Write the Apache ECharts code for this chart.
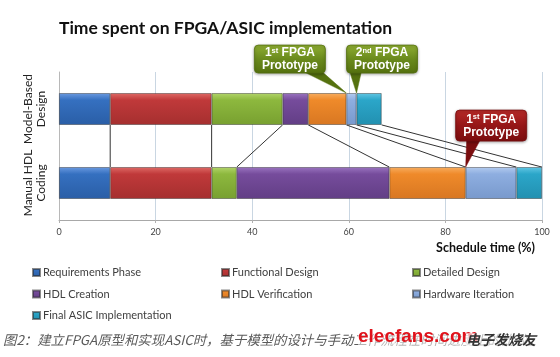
<!DOCTYPE html>
<html><head><meta charset="utf-8">
<script src="https://cdn.jsdelivr.net/npm/echarts@6/dist/echarts.min.js"></script>
<style>html,body{margin:0;padding:0;background:#fff}#c{width:560px;height:357px}</style>
</head><body><div id="c"></div>
<script>
// ---- data ----
const categories = ['Manual HDL\nCoding', 'Model-Based\nDesign'];
const phases = ['Requirements Phase','Functional Design','Detailed Design','HDL Creation','HDL Verification','Hardware Iteration','Final ASIC Implementation'];
const manualHDL = [10.6, 21.0, 5.2, 31.6, 15.8, 10.5, 5.3];
const modelBased = [10.6, 21.0, 14.7, 5.3, 7.9, 2.1, 5.2];
const xTicks = [0, 20, 40, 60, 80, 100];
const calloutTexts = [['1','st',' FPGA','Prototype'], ['2','nd',' FPGA','Prototype'], ['1','st',' FPGA','Prototype']];
// callouts: [which bar (1=model, 0=manual), boundary index (end of phase)]
const calloutTargets = [[1, 4], [1, 5], [0, 4]];
const titleText = 'Time spent on FPGA/ASIC implementation';
const axisName = 'Schedule time (%)';
const caption = '图2：建立FPGA原型和实现ASIC时，基于模型的设计与手动工作流程在时间进度上的比较。';

// ---- derived ----
function cum(a){let s=0;return a.map(v=>+(s+=v).toFixed(2));}
const cumManual = cum(manualHDL), cumModel = cum(modelBased);
const cumByBar = [cumManual, cumModel];

// ---- styles ----
const colors = [
  ['#6b9ae0','#3570c0','#2a5ea6'],
  ['#de6a66','#c0393a','#a52f2f'],
  ['#b2d46a','#8db83e','#78a030'],
  ['#9a74c0','#764c9c','#623e85'],
  ['#f7ad60','#ef8a2a','#d87722'],
  ['#b3cbef','#8eaee0','#7899cc'],
  ['#62c6e3','#2ba6c9','#2290b0']
];
const calloutLayout = [
  {dx:-92, dy:-48, w:71, h:28, tail:[[-44,-20],[-25,-20]], c:['#8fae33','#6a8a1c','#55710f']},
  {dx:-10, dy:-48, w:71, h:28, tail:[[-7,-20],[5,-20]], c:['#8fae33','#6a8a1c','#55710f']},
  {dx:-10, dy:-57, w:71, h:31, tail:[[1,-26],[15,-26]], c:['#b82a28','#951617','#7a0d0e']}
];
const BARW = 0.43;
function grad(c){return {type:'linear',x:0,y:0,x2:0,y2:1,colorStops:[{offset:0,color:c[0]},{offset:0.22,color:c[1]},{offset:1,color:c[2]}]};}

const barSeries = phases.map((p,i)=>({
  name:p, type:'bar', stack:'t', barWidth:(BARW*100)+'%',
  data:[manualHDL[i], modelBased[i]],
  itemStyle:{color:grad(colors[i]), borderColor:'rgba(40,40,40,0.55)', borderWidth:0.8},
  emphasis:{disabled:true}, z:3
}));

const connectorSeries = {
  type:'custom', clip:false, z:2, silent:true,
  encode:{x:[0,1], y:2},
  data: cumModel.map((v,i)=>[v, cumManual[i], 0]),
  renderItem(params, api){
    const band = api.size([0,1])[1];
    const half = band*BARW/2;
    const p1 = api.coord([api.value(0), 1]);
    const p2 = api.coord([api.value(1), 0]);
    return {type:'line', shape:{x1:p1[0], y1:p1[1]+half, x2:p2[0], y2:p2[1]-half},
      style:{stroke:'#333', lineWidth:1}};
  }
};

const calloutSeries = {
  type:'custom', clip:false, z:10, silent:true,
  encode:{x:0, y:1},
  data: calloutTargets.map(t=>[cumByBar[t[0]][t[1]], t[0]]),
  renderItem(params, api){
    const i = params.dataIndex, L = calloutLayout[i], T = calloutTexts[i];
    const band = api.size([0,1])[1];
    const p = api.coord([api.value(0), api.value(1)]);
    const x = p[0], y = p[1] - band*BARW/2;
    const fill = {type:'linear',x:0,y:0,x2:0,y2:1,colorStops:[{offset:0,color:L.c[0]},{offset:0.5,color:L.c[1]},{offset:1,color:L.c[2]}]};
    return {type:'group', children:[
      {type:'polygon', shape:{points:[[x+L.tail[0][0], y+L.tail[0][1]-2],[x+L.tail[1][0], y+L.tail[1][1]-2],[x,y]]},
        style:{fill:L.c[2], stroke:L.c[2], lineWidth:0.5}},
      {type:'rect', shape:{x:x+L.dx, y:y+L.dy, width:L.w, height:L.h, r:4},
        style:{fill:fill, stroke:L.c[2], lineWidth:0.8, shadowBlur:3, shadowOffsetY:1, shadowColor:'rgba(0,0,0,0.35)'}},
      {type:'text', style:{
        x:x+L.dx+L.w/2, y:y+L.dy+L.h/2+0.5, align:'center', verticalAlign:'middle',
        text:'{a|'+T[0]+'}{s|'+T[1]+'}{a|'+T[2]+'}\n{a|'+T[3]+'}',
        rich:{
          a:{fill:'#fff', fontSize:12, fontWeight:'bold', fontFamily:'Liberation Sans', lineHeight:13},
          s:{fill:'#fff', fontSize:7.5, fontWeight:'bold', fontFamily:'Liberation Sans', lineHeight:13, verticalAlign:'top'}
        }}}
    ]};
  }
};

function legendCol(items, left){
  return {orient:'vertical', left:left, top:262, itemWidth:7, itemHeight:7, itemGap:10.5,
    icon:'rect', data:items, selectedMode:false,
    textStyle:{fontFamily:'Lato', fontSize:11, color:'#404040', padding:[0,0,0,-2]}};
}

const chart = echarts.init(document.getElementById('c'), null, {renderer:'canvas'});
chart.setOption({
  animation:false,
  title:{text:titleText, left:54, top:14, textStyle:{fontFamily:'Lato', fontSize:17.5, fontWeight:'bold', color:'#111'}},
  grid:{left:59, right:18, top:72, bottom:137, containLabel:false},
  legend:[
    legendCol([phases[0], phases[3], phases[6]], 27),
    legendCol([phases[1], phases[4]], 216),
    legendCol([phases[2], phases[5]], 407)
  ],
  xAxis:{type:'value', min:0, max:100, interval:20,
    name:axisName, nameLocation:'end', nameGap:-7,
    nameTextStyle:{fontFamily:'Lato', fontSize:12.5, fontWeight:'bold', color:'#111', align:'right', verticalAlign:'top', padding:[21,0,0,0]},
    axisLine:{show:true, lineStyle:{color:'#a8a8a8'}},
    axisTick:{show:true, length:3, lineStyle:{color:'#b0b0b0'}},
    axisLabel:{fontFamily:'Lato', fontSize:9, color:'#444', margin:8, formatter:v=>xTicks.includes(v)?String(v):''},
    splitLine:{show:true, lineStyle:{color:'#c9d6e2'}}
  },
  yAxis:{type:'category', data:categories,
    axisLine:{show:true, lineStyle:{color:'#b8b8b8'}},
    axisTick:{show:false},
    axisLabel:{rotate:90, interval:0, hideOverlap:false, margin:11, fontFamily:'Lato', fontSize:12, color:'#222', lineHeight:13}
  },
  series:[connectorSeries, ...barSeries, calloutSeries],
  graphic:[
    {type:'text', left:3, top:333, z:5, style:{text:caption, fontFamily:'Noto Sans CJK SC', fontStyle:'italic', fontSize:13.4, fill:'#5a5a5a'}},
    {type:'text', left:358, top:327, z:6, style:{text:'elecfans.com', fontFamily:'Liberation Sans', fontWeight:'bold', fontSize:19, fill:'#e0121b', backgroundColor:'rgba(255,255,255,0.55)'}},
    {type:'text', left:466, top:333, z:6, style:{text:'电子发烧友', fontFamily:'Noto Sans CJK SC', fontStyle:'italic', fontWeight:'bold', fontSize:14, fill:'#333', backgroundColor:'rgba(255,255,255,0.6)'}}
  ]
});
</script></body></html>
